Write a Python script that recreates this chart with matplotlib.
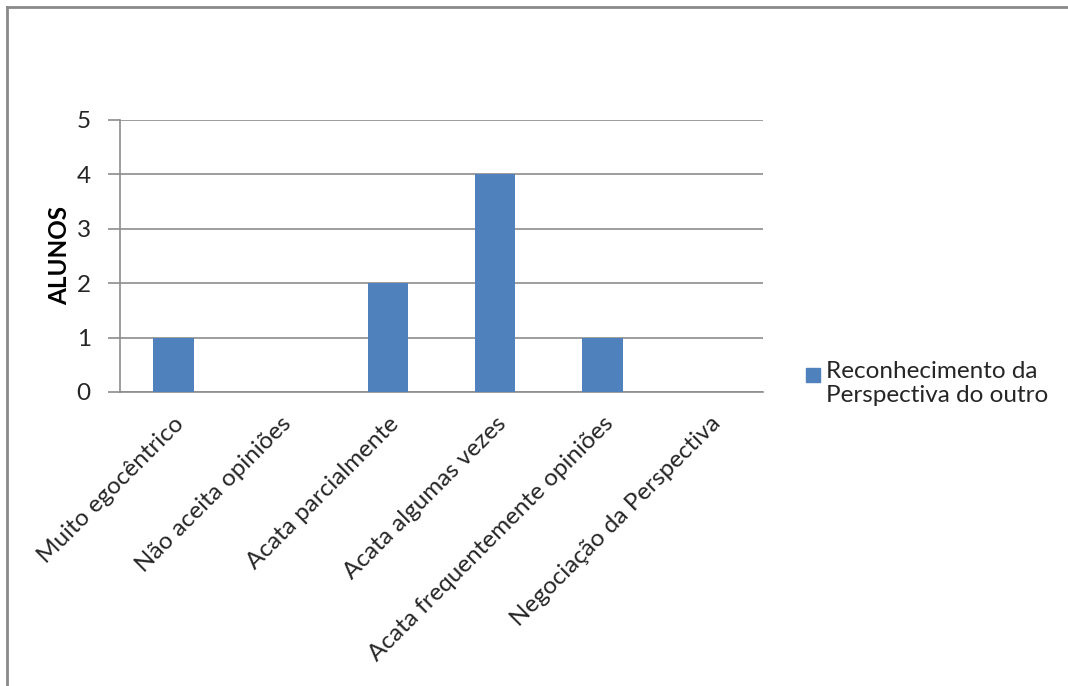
import matplotlib.pyplot as plt
from matplotlib.patches import Rectangle
from matplotlib.lines import Line2D

plt.rcParams['font.family'] = ['Lato', 'DejaVu Sans']

categorias = ['Muito egocêntrico', 'Não aceita opiniões', 'Acata parcialmente',
              'Acata algumas vezes', 'Acata frequentemente opiniões',
              'Negociação da Perspectiva']
alunos = [1, 0, 2, 4, 1, 0]
serie = 'Reconhecimento da\nPerspectiva do outro'

COR_BARRA = '#4F81BD'
COR_GRADE = '#8C8C8C'
COR_TEXTO = '#262626'
TAM = 17.5

W, H = 1068, 686
fig = plt.figure(figsize=(W / 100, H / 100), dpi=100)
ax = fig.add_axes([120 / W, 1 - 392 / H, (763 - 120) / W, (392 - 120) / H])

x = range(len(categorias))
ax.bar(x, alunos, width=0.38, color=COR_BARRA, zorder=3)

ax.set_xlim(-0.5, len(categorias) - 0.5)
ax.set_ylim(0, 5)
ax.set_yticks(range(0, 6))
ax.yaxis.grid(True, color=COR_GRADE, linewidth=1.2)
ax.set_axisbelow(True)

for s in ['top', 'right']:
    ax.spines[s].set_visible(False)
for s in ['left', 'bottom']:
    ax.spines[s].set_color(COR_GRADE)
    ax.spines[s].set_linewidth(1.2)

ax.tick_params(axis='y', length=9, width=1.2, color=COR_GRADE,
               labelsize=TAM, labelcolor=COR_TEXTO, pad=12)
ax.tick_params(axis='x', length=0, labelsize=TAM, labelcolor=COR_TEXTO, pad=15)
ax.set_xticks(list(x))
ax.set_xticklabels(categorias, rotation=45, ha='right', rotation_mode='anchor')

fig.text(60 / W, 1 - 256 / H, 'ALUNOS', fontsize=TAM, fontweight='bold',
         color='black', rotation=90, ha='center', va='center')

# legenda desenhada à mão, com o quadrado alinhado à primeira linha
fig.add_artist(Rectangle((806 / W, 1 - 382 / H), 14 / W, 14 / H,
                         transform=fig.transFigure, color=COR_BARRA))
fig.text(826 / W, 1 - 361 / H, serie, fontsize=TAM, color=COR_TEXTO,
         va='top', ha='left', linespacing=1.2)

# moldura do gráfico (bordas superior e esquerda)
fig.add_artist(Line2D([7 / W, 7 / W], [0, 1 - 7 / H], transform=fig.transFigure,
                      color='#8A8A8A', linewidth=2))
fig.add_artist(Line2D([7 / W, 1], [1 - 7 / H, 1 - 7 / H], transform=fig.transFigure,
                      color='#8A8A8A', linewidth=2))

fig.savefig('out.png', dpi=100)
